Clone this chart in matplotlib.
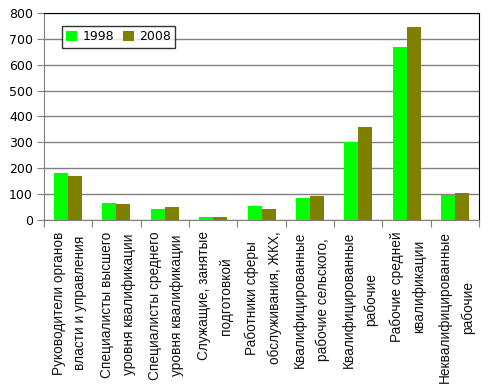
import matplotlib
matplotlib.use("Agg")
import matplotlib.pyplot as plt
import numpy as np

categories = [
    "Руководители органов\nвласти и управления",
    "Специалисты высшего\nуровня квалификации",
    "Специалисты среднего\nуровня квалификации",
    "Служащие, занятые\nподготовкой",
    "Работники сферы\nобслуживания, ЖКХ,",
    "Квалифицированные\nрабочие сельского,",
    "Квалифицированные\nрабочие",
    "Рабочие средней\nквалификации",
    "Неквалифицированные\nрабочие",
]
series_labels = ["1998", "2008"]
values_1998 = [181, 66, 42, 12, 54, 85, 301, 668, 98]
values_2008 = [170, 62, 50, 12, 42, 93, 359, 745, 104]
yticks = [0, 100, 200, 300, 400, 500, 600, 700, 800]

fig = plt.figure(figsize=(4.93, 3.90), dpi=100)
ax = fig.add_axes([0.089, 0.436, 0.883, 0.531])

x = np.arange(len(categories))
w = 0.29
ax.bar(x - w / 2, values_1998, w, color="#00FF00", label=series_labels[0], zorder=3)
ax.bar(x + w / 2, values_2008, w, color="#808000", label=series_labels[1], zorder=3)

ax.set_xlim(-0.5, len(categories) - 0.5)
ax.set_ylim(0, 800)
ax.set_yticks(yticks)
ax.set_yticklabels([str(v) for v in yticks], fontsize=9, family="DejaVu Sans")
ax.yaxis.grid(True, color="#808080", linewidth=1.0, zorder=0)
ax.set_axisbelow(True)

ax.set_xticks(np.arange(len(categories) + 1) - 0.5)
ax.set_xticklabels([])
ax.tick_params(axis="x", length=5, color="#808080", direction="out")
ax.tick_params(axis="y", length=5, color="#808080", direction="out", pad=3)

for i, c in enumerate(categories):
    ax.text(i + 0.03, -0.055, c, transform=ax.get_xaxis_transform(), rotation=90,
            ha="center", va="top", multialignment="center", fontsize=9.8,
            family="Liberation Sans", linespacing=1.72, color="#111111")

for s in ["left", "bottom"]:
    ax.spines[s].set_color("#808080")
for s in ["top", "right"]:
    ax.spines[s].set_color("black")

leg = ax.legend(loc="upper left", bbox_to_anchor=(0.041, 0.937), ncol=2,
                frameon=True, fancybox=False, edgecolor="black", handlelength=0.9,
                handleheight=0.9, handletextpad=0.4, columnspacing=0.7,
                borderpad=0.35, borderaxespad=0,
                prop={"family": "DejaVu Sans", "size": 9})
leg.get_frame().set_linewidth(1.0)

fig.savefig("out.png", dpi=100)
